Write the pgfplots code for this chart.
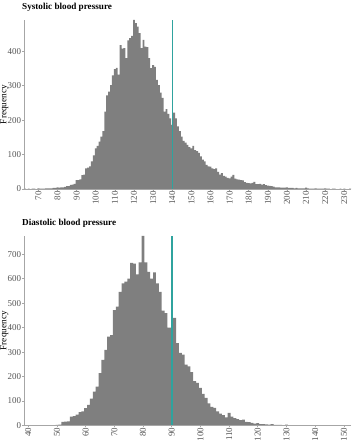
\documentclass[border=0pt]{standalone}
\usepackage{fontspec}
\setmainfont{Liberation Serif}
\usepackage{pgfplots}
\pgfplotsset{compat=1.18}
\usepackage{pgfplotstable}

\definecolor{barfill}{HTML}{7F7F7F}
\definecolor{refline}{HTML}{2FA39E}
\definecolor{axisgray}{HTML}{A6A6A6}
\definecolor{labelgray}{HTML}{555555}

% counts per 1 mmHg bin (bins centred on integers)
\pgfplotstableread[row sep=\\]{
bp n\\
63 1\\ 64 0\\ 65 1\\ 66 0\\ 67 1\\ 68 1\\ 69 0\\ 70 2\\ 71 1\\ 72 1\\
73 1\\ 74 2\\ 75 2\\ 76 2\\ 77 2\\ 78 3\\ 79 3\\ 80 5\\ 81 4\\ 82 5\\
83 5\\ 84 6\\ 85 8\\ 86 8\\ 87 12\\ 88 13\\ 89 15\\ 90 26\\ 91 26\\ 92 28\\
93 40\\ 94 42\\ 95 60\\ 96 62\\ 97 66\\ 98 80\\ 99 98\\ 100 118\\ 101 125\\ 102 138\\
103 152\\ 104 168\\ 105 225\\ 106 272\\ 107 283\\ 108 302\\ 109 330\\ 110 348\\ 111 352\\ 112 332\\
113 418\\ 114 408\\ 115 409\\ 116 380\\ 117 432\\ 118 438\\ 119 445\\ 120 491\\ 121 482\\ 122 472\\
123 453\\ 124 409\\ 125 433\\ 126 414\\ 127 412\\ 128 380\\ 129 351\\ 130 360\\ 131 355\\ 132 317\\
133 302\\ 134 280\\ 135 265\\ 136 225\\ 137 232\\ 138 218\\ 139 205\\ 140 186\\ 141 222\\ 142 205\\
143 182\\ 144 168\\ 145 152\\ 146 140\\ 147 135\\ 148 128\\ 149 122\\ 150 118\\ 151 125\\ 152 113\\
153 110\\ 154 105\\ 155 95\\ 156 85\\ 157 80\\ 158 70\\ 159 66\\ 160 65\\ 161 60\\ 162 58\\
163 60\\ 164 50\\ 165 42\\ 166 46\\ 167 38\\ 168 36\\ 169 32\\ 170 31\\ 171 36\\ 172 41\\
173 30\\ 174 28\\ 175 27\\ 176 26\\ 177 25\\ 178 20\\ 179 18\\ 180 17\\ 181 16\\ 182 18\\
183 21\\ 184 14\\ 185 14\\ 186 15\\ 187 13\\ 188 14\\ 189 11\\ 190 10\\ 191 9\\ 192 8\\
193 7\\ 194 5\\ 195 5\\ 196 5\\ 197 4\\ 198 4\\ 199 4\\ 200 5\\ 201 3\\ 202 3\\
203 3\\ 204 2\\ 205 3\\ 206 2\\ 207 2\\ 208 2\\ 209 2\\ 210 4\\ 211 2\\ 212 1\\
213 1\\ 214 1\\ 215 2\\ 216 1\\ 217 1\\ 218 1\\ 219 1\\ 220 2\\ 221 1\\ 222 1\\
223 0\\ 224 1\\ 225 1\\ 226 0\\ 227 0\\ 228 1\\ 229 0\\ 230 1\\ 231 0\\ 232 0\\
233 1\\ 234 0\\
}\systolic

\pgfplotstableread[row sep=\\]{
bp n\\
39 0\\ 40 1\\ 41 0\\ 42 0\\ 43 0\\ 44 0\\ 45 1\\ 46 2\\ 47 1\\ 48 1\\
49 1\\ 50 3\\ 51 4\\ 52 15\\ 53 16\\ 54 17\\ 55 36\\ 56 38\\ 57 44\\ 58 55\\
59 58\\ 60 71\\ 61 84\\ 62 110\\ 63 139\\ 64 159\\ 65 214\\ 66 268\\ 67 309\\ 68 363\\
69 370\\ 70 472\\ 71 486\\ 72 547\\ 73 581\\ 74 588\\ 75 601\\ 76 665\\ 77 662\\ 78 618\\
79 667\\ 80 775\\ 81 667\\ 82 628\\ 83 601\\ 84 626\\ 85 581\\ 86 547\\ 87 470\\ 88 460\\
89 400\\ 90 400\\ 91 440\\ 92 337\\ 93 297\\ 94 290\\ 95 249\\ 96 242\\ 97 218\\ 98 181\\
99 174\\ 100 154\\ 101 129\\ 102 113\\ 103 90\\ 104 76\\ 105 72\\ 106 58\\ 107 49\\ 108 42\\
109 33\\ 110 52\\ 111 36\\ 112 30\\ 113 26\\ 114 22\\ 115 24\\ 116 15\\ 117 14\\ 118 11\\
119 8\\ 120 10\\ 121 6\\ 122 6\\ 123 5\\ 124 4\\ 125 6\\ 126 3\\ 127 3\\ 128 3\\
129 2\\ 130 4\\ 131 1\\ 132 1\\ 133 1\\ 134 1\\ 135 1\\ 136 0\\ 137 0\\ 138 1\\
139 0\\ 140 1\\ 141 0\\ 142 0\\ 143 0\\ 144 0\\ 145 1\\ 146 0\\ 147 0\\ 148 0\\
149 0\\ 150 1\\ 151 0\\ 152 0\\ 153 0\\
}\diastolic

\pgfplotsset{
  bphist/.style={
    scale only axis, width=327bp,
    axis x line*=bottom, axis y line*=left,
    axis line style={axisgray, line width=0.6bp},
    tick style={axisgray, line width=0.6bp},
    major tick length=1.5bp, tick align=outside,
    ymin=0, enlargelimits=false, axis on top,
    /pgf/number format/assume math mode=true,
    /pgf/number format/1000 sep={},
    tick label style={font=\fontsize{9}{10}\selectfont, text=labelgray},
    xticklabel style={rotate=90, anchor=east, inner sep=0.4bp},
    yticklabel style={inner sep=1.2bp},
    ylabel=Frequency,
    ylabel style={at={(axis description cs:0,0.5)}, anchor=south, yshift=15.5bp,
      inner sep=0pt, font=\fontsize{9.3}{10}\selectfont},
    title style={at={(axis description cs:0,1)}, anchor=base west, xshift=-2bp,
      yshift=5bp, inner sep=0pt, font=\bfseries\fontsize{9.2}{10}\selectfont},
  },
  bars/.style={draw=none, fill=barfill, const plot mark left,
    x filter/.expression={x-0.5}},
  cutoff/.style={ycomb, no marks, draw=refline, color=refline, forget plot},
}

\begin{document}
\begin{tikzpicture}
\path[use as bounding box] (0,0) rectangle (358bp,-440bp);

\begin{axis}[bphist, at={(24bp,-189bp)}, anchor=south west, height=169bp,
  xmin=62.5, xmax=233.5, ymax=491,
  xtick={70,80,...,230}, ytick={0,100,...,400},
  title={Systolic blood pressure}]
\addplot[bars] table[x=bp, y=n] {\systolic} \closedcycle;
\addplot[cutoff, line width=1.1bp] coordinates {(140,491)};
\end{axis}

\begin{axis}[bphist, at={(24bp,-425.5bp)}, anchor=south west, height=189.5bp,
  xmin=38.5, xmax=152.5, ymax=775,
  xtick={40,50,...,150}, ytick={0,100,...,700},
  title={Diastolic blood pressure}]
\addplot[bars] table[x=bp, y=n] {\diastolic} \closedcycle;
\addplot[cutoff, line width=1.7bp] coordinates {(90,775)};
\end{axis}
\end{tikzpicture}
\end{document}
